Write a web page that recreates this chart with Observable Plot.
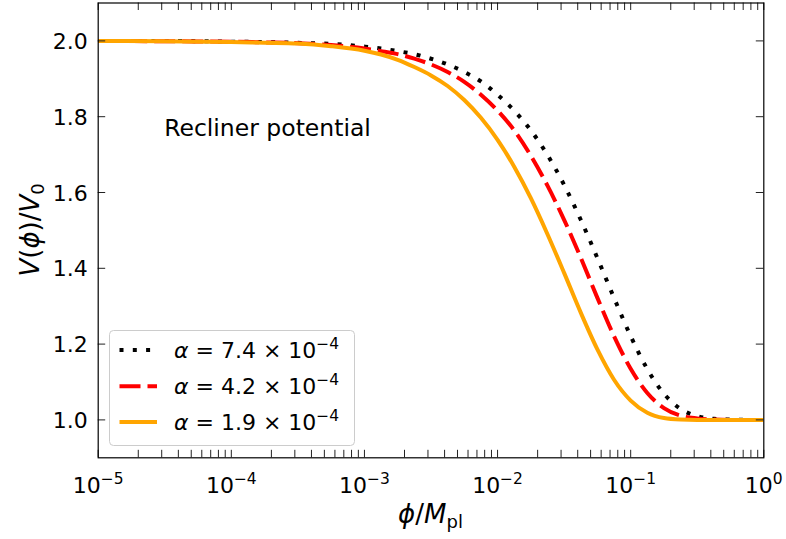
<!DOCTYPE html>
<html>
<head>
<meta charset="utf-8">
<script src="https://cdn.jsdelivr.net/npm/d3@7"></script>
<script src="https://cdn.jsdelivr.net/npm/@observablehq/plot@0.6"></script>
<style>
  body { margin: 0; background: #fff; }
  #chart { position: relative; width: 786px; height: 539px; }
</style>
</head>
<body>
<div id="chart"></div>
<script>
// ---- data ----
// x grid as powers of ten: phi/Mpl = 10^exp
const phiExp = [-5, -4.5, -4, -3.75, -3.5, -3.25, -3, -2.875, -2.75, -2.625, -2.5, -2.375, -2.25, -2.125, -2,
  -1.875, -1.75, -1.625, -1.5, -1.375, -1.25, -1.125, -1, -0.875, -0.75, -0.625, -0.5, -0.375, -0.25, -0.125, 0];
// V(phi)/V0 for alpha = 7.4e-4 (black dotted)
const vAlpha74 = [2.000, 2.000, 1.998, 1.997, 1.995, 1.992, 1.985, 1.980, 1.973, 1.965, 1.953, 1.938, 1.918, 1.893, 1.858,
  1.816, 1.764, 1.699, 1.620, 1.528, 1.427, 1.322, 1.221, 1.134, 1.069, 1.029, 1.010, 1.003, 1.001, 1.000, 1.000];
// alpha = 4.2e-4 (red dashed)
const vAlpha42 = [2.000, 1.999, 1.998, 1.996, 1.994, 1.989, 1.980, 1.973, 1.965, 1.953, 1.938, 1.918, 1.892, 1.858, 1.816,
  1.764, 1.697, 1.618, 1.528, 1.428, 1.322, 1.221, 1.135, 1.071, 1.031, 1.011, 1.004, 1.001, 1.000, 1.000, 1.000];
// alpha = 1.9e-4 (orange solid)
const vAlpha19 = [2.000, 1.999, 1.997, 1.995, 1.993, 1.986, 1.974, 1.964, 1.950, 1.931, 1.909, 1.881, 1.844, 1.797, 1.739,
  1.668, 1.585, 1.490, 1.388, 1.283, 1.186, 1.106, 1.051, 1.019, 1.005, 1.001, 1.000, 1.000, 1.000, 1.000, 1.000];

const seriesLabels = [
  ["α", " = 7.4 × 10", "−4"],
  ["α", " = 4.2 × 10", "−4"],
  ["α", " = 1.9 × 10", "−4"]
];
const xMajorExp = [-5, -4, -3, -2, -1, 0];
const yTicks = [1.0, 1.2, 1.4, 1.6, 1.8, 2.0];
const annotation = [{phi: 1.87e-4, v: 1.77, text: "Recliner potential"}];

// ---- tables built from the arrays ----
const toRows = vals => phiExp.map((e, i) => ({phi: Math.pow(10, e), v: vals[i]}));
const rows74 = toRows(vAlpha74);
const rows42 = toRows(vAlpha42);
const rows19 = toRows(vAlpha19);
const xMajor = xMajorExp.map(e => Math.pow(10, e));
const xMinor = [];
for (const e of xMajorExp.slice(0, -1)) for (let m = 2; m <= 9; m++) xMinor.push(m * Math.pow(10, e));

// ---- layout ----
const W = 786, H = 539;
const mL = 97.7, mR = 22.7, mT = 2.5, mB = 81.7;
const frameW = W - mL - mR, frameH = H - mT - mB;
const tk = 7.5; // inward tick length
const FONT = "DejaVu Sans";

const styles = [
  {stroke: "black", strokeWidth: 4, strokeDasharray: "4,9.3", strokeLinecap: "butt"},
  {stroke: "#ff0000", strokeWidth: 4, strokeDasharray: "21,7", strokeLinecap: "butt"},
  {stroke: "#ffa500", strokeWidth: 4, strokeLinecap: "butt"}
];

const chart = Plot.plot({
  width: W, height: H,
  marginLeft: mL, marginRight: mR, marginTop: mT, marginBottom: mB,
  style: {fontFamily: FONT, fontSize: "22px", background: "white", color: "black", overflow: "visible"},
  x: {type: "log", domain: [1e-5, 1]},
  y: {domain: [0.9, 2.1]},
  marks: [
    Plot.line(rows74, {x: "phi", y: "v", curve: "monotone-x", clip: true, ...styles[0]}),
    Plot.line(rows42, {x: "phi", y: "v", curve: "monotone-x", clip: true, ...styles[1]}),
    Plot.line(rows19, {x: "phi", y: "v", curve: "monotone-x", clip: true, ...styles[2]}),
    // inward ticks on all four sides
    Plot.ruleX(xMajor, {x: d => d, insetTop: frameH - tk, stroke: "#222", strokeWidth: 1}),
    Plot.ruleX(xMajor, {x: d => d, insetBottom: frameH - tk, stroke: "#222", strokeWidth: 1}),
    Plot.ruleX(xMinor, {x: d => d, insetTop: frameH - tk, stroke: "#222", strokeWidth: 1}),
    Plot.ruleX(xMinor, {x: d => d, insetBottom: frameH - tk, stroke: "#222", strokeWidth: 1}),
    Plot.ruleY(yTicks, {y: d => d, insetRight: frameW - tk, stroke: "#222", strokeWidth: 1}),
    Plot.ruleY(yTicks, {y: d => d, insetLeft: frameW - tk, stroke: "#222", strokeWidth: 1}),
    Plot.frame({stroke: "black", strokeWidth: 1.2}),
    Plot.axisX(xMajor, {tickSize: 0, tickPadding: 19.5, fontSize: 22, label: null,
      tickFormat: d => "10^" + Math.round(Math.log10(d))}),
    Plot.axisY(yTicks, {tickSize: 0, tickPadding: 10.5, fontSize: 22, label: null,
      tickFormat: d => d.toFixed(1), dy: 1}),
    Plot.text(annotation, {x: "phi", y: "v", text: "text", fontSize: 23.5, textAnchor: "middle", fill: "black"})
  ]
});

document.getElementById("chart").appendChild(chart);
const svg = d3.select(chart);

// rich x tick labels: 10 with superscript exponent
svg.selectAll("text").each(function () {
  const t = this.textContent;
  if (/^10\^-?\d+$/.test(t)) {
    const exp = t.slice(3).replace("-", "−");
    const sel = d3.select(this);
    sel.text("");
    sel.append("tspan").text("10");
    sel.append("tspan").attr("font-size", 15.5).attr("dy", -9).text(exp);
  }
});

// axis labels (mathtext-like)
function rich(g, parts) {
  for (const p of parts) {
    const ts = g.append("tspan").text(p.t);
    if (p.i) ts.attr("font-style", "italic");
    if (p.size) ts.attr("font-size", p.size);
    if (p.dy) ts.attr("dy", p.dy);
  }
}
const ylab = svg.append("text")
  .attr("transform", `translate(39,${mT + frameH / 2}) rotate(-90)`)
  .attr("text-anchor", "middle").attr("font-family", FONT).attr("font-size", 26).attr("fill", "black");
rich(ylab, [{t: "V", i: 1}, {t: "("}, {t: "ϕ", i: 1}, {t: ")/"}, {t: "V", i: 1}, {t: "0", size: 18, dy: 5}]);

const xlab = svg.append("text")
  .attr("transform", `translate(${mL + frameW / 2},523)`)
  .attr("text-anchor", "middle").attr("font-family", FONT).attr("font-size", 26).attr("fill", "black");
rich(xlab, [{t: "ϕ", i: 1}, {t: "/"}, {t: "M", i: 1}, {t: "pl", size: 18, dy: 5}]);

// legend
const lg = svg.append("g").attr("font-family", FONT).attr("font-size", 22).attr("text-anchor", "start");
lg.append("rect").attr("x", 109.5).attr("y", 330.5).attr("width", 245).attr("height", 115)
  .attr("rx", 4).attr("fill", "white").attr("fill-opacity", 0.8).attr("stroke", "#cccccc").attr("stroke-width", 1);
const rowY = [350, 386.3, 422];
seriesLabels.forEach((lab, i) => {
  const s = styles[i];
  lg.append("line").attr("x1", 119.5).attr("x2", 157).attr("y1", rowY[i]).attr("y2", rowY[i])
    .attr("stroke", s.stroke).attr("stroke-width", s.strokeWidth)
    .attr("stroke-dasharray", s.strokeDasharray || null).attr("stroke-linecap", "butt");
  const t = lg.append("text").attr("x", 174).attr("y", rowY[i] + 7.5).attr("fill", "black")
    .attr("text-anchor", "start");
  rich(t, [{t: lab[0], i: 1}, {t: lab[1]}, {t: lab[2], size: 15.5, dy: -9}]);
});
</script>
</body>
</html>
